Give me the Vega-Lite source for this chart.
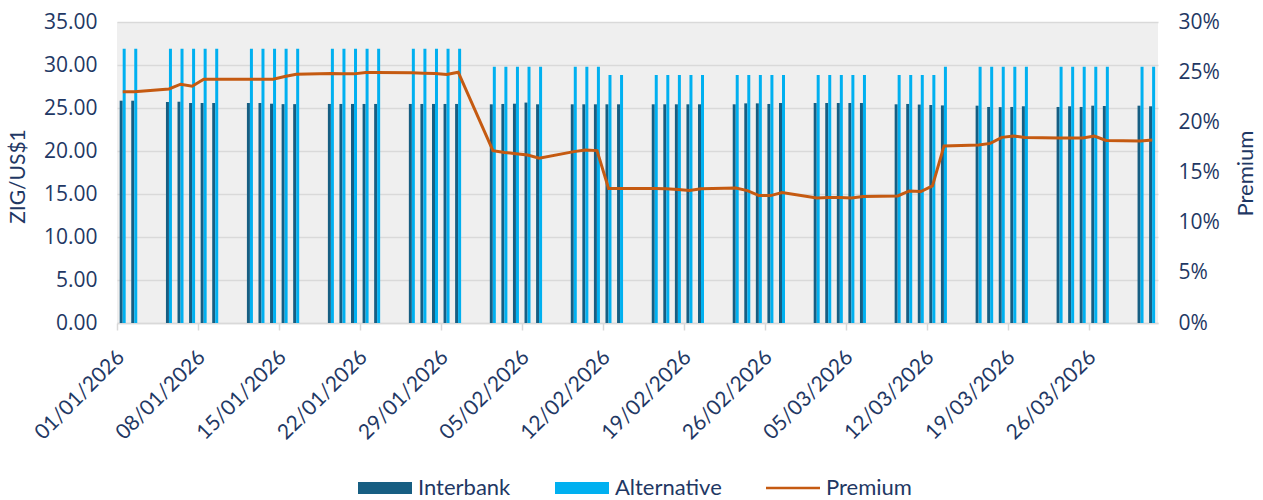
{
  "$schema": "https://vega.github.io/schema/vega-lite/v6.json",
  "width": 1041,
  "height": 301,
  "autosize": {"type": "none"},
  "padding": {"left": 117, "top": 22, "right": 105, "bottom": 177},
  "background": "white",
  "config": {
    "view": {"fill": "#efefef", "stroke": null},
    "font": "Lato"
  },
  "data": {
    "values": [
      {"date": "2026-01-01", "interbank": 25.85, "alternative": 31.9, "premium": 0.2306},
      {"date": "2026-01-02", "interbank": 25.85, "alternative": 31.9, "premium": 0.2306},
      {"date": "2026-01-05", "interbank": 25.7, "alternative": 31.9, "premium": 0.2333},
      {"date": "2026-01-06", "interbank": 25.73, "alternative": 31.9, "premium": 0.238},
      {"date": "2026-01-07", "interbank": 25.58, "alternative": 31.9, "premium": 0.236},
      {"date": "2026-01-08", "interbank": 25.58, "alternative": 31.9, "premium": 0.243},
      {"date": "2026-01-09", "interbank": 25.58, "alternative": 31.9, "premium": 0.243},
      {"date": "2026-01-12", "interbank": 25.58, "alternative": 31.9, "premium": 0.243},
      {"date": "2026-01-13", "interbank": 25.58, "alternative": 31.9, "premium": 0.243},
      {"date": "2026-01-14", "interbank": 25.5, "alternative": 31.9, "premium": 0.243},
      {"date": "2026-01-15", "interbank": 25.45, "alternative": 31.9, "premium": 0.2456},
      {"date": "2026-01-16", "interbank": 25.45, "alternative": 31.9, "premium": 0.248},
      {"date": "2026-01-19", "interbank": 25.47, "alternative": 31.9, "premium": 0.2486},
      {"date": "2026-01-20", "interbank": 25.47, "alternative": 31.9, "premium": 0.2485},
      {"date": "2026-01-21", "interbank": 25.47, "alternative": 31.9, "premium": 0.2483},
      {"date": "2026-01-22", "interbank": 25.47, "alternative": 31.9, "premium": 0.2496},
      {"date": "2026-01-23", "interbank": 25.47, "alternative": 31.9, "premium": 0.2496},
      {"date": "2026-01-26", "interbank": 25.47, "alternative": 31.9, "premium": 0.2493},
      {"date": "2026-01-27", "interbank": 25.47, "alternative": 31.9, "premium": 0.249},
      {"date": "2026-01-28", "interbank": 25.47, "alternative": 31.9, "premium": 0.2486},
      {"date": "2026-01-29", "interbank": 25.47, "alternative": 31.9, "premium": 0.2476},
      {"date": "2026-01-30", "interbank": 25.47, "alternative": 31.9, "premium": 0.25},
      {"date": "2026-02-02", "interbank": 25.43, "alternative": 29.8, "premium": 0.1718},
      {"date": "2026-02-03", "interbank": 25.47, "alternative": 29.8, "premium": 0.17},
      {"date": "2026-02-04", "interbank": 25.5, "alternative": 29.8, "premium": 0.1688},
      {"date": "2026-02-05", "interbank": 25.63, "alternative": 29.8, "premium": 0.1675},
      {"date": "2026-02-06", "interbank": 25.43, "alternative": 29.8, "premium": 0.1642},
      {"date": "2026-02-09", "interbank": 25.43, "alternative": 29.8, "premium": 0.1708},
      {"date": "2026-02-10", "interbank": 25.43, "alternative": 29.8, "premium": 0.1725},
      {"date": "2026-02-11", "interbank": 25.43, "alternative": 29.8, "premium": 0.1718},
      {"date": "2026-02-12", "interbank": 25.43, "alternative": 28.84, "premium": 0.134},
      {"date": "2026-02-13", "interbank": 25.43, "alternative": 28.84, "premium": 0.134},
      {"date": "2026-02-16", "interbank": 25.43, "alternative": 28.84, "premium": 0.134},
      {"date": "2026-02-17", "interbank": 25.43, "alternative": 28.84, "premium": 0.1337},
      {"date": "2026-02-18", "interbank": 25.43, "alternative": 28.84, "premium": 0.133},
      {"date": "2026-02-19", "interbank": 25.43, "alternative": 28.84, "premium": 0.132},
      {"date": "2026-02-20", "interbank": 25.43, "alternative": 28.84, "premium": 0.1337},
      {"date": "2026-02-23", "interbank": 25.43, "alternative": 28.84, "premium": 0.1346},
      {"date": "2026-02-24", "interbank": 25.54, "alternative": 28.84, "premium": 0.132},
      {"date": "2026-02-25", "interbank": 25.54, "alternative": 28.84, "premium": 0.127},
      {"date": "2026-02-26", "interbank": 25.47, "alternative": 28.84, "premium": 0.127},
      {"date": "2026-02-27", "interbank": 25.58, "alternative": 28.84, "premium": 0.13},
      {"date": "2026-03-02", "interbank": 25.58, "alternative": 28.84, "premium": 0.1246},
      {"date": "2026-03-03", "interbank": 25.58, "alternative": 28.84, "premium": 0.125},
      {"date": "2026-03-04", "interbank": 25.58, "alternative": 28.84, "premium": 0.125},
      {"date": "2026-03-05", "interbank": 25.58, "alternative": 28.84, "premium": 0.1246},
      {"date": "2026-03-06", "interbank": 25.58, "alternative": 28.84, "premium": 0.126},
      {"date": "2026-03-09", "interbank": 25.43, "alternative": 28.84, "premium": 0.1266},
      {"date": "2026-03-10", "interbank": 25.47, "alternative": 28.84, "premium": 0.1316},
      {"date": "2026-03-11", "interbank": 25.4, "alternative": 28.84, "premium": 0.131},
      {"date": "2026-03-12", "interbank": 25.35, "alternative": 28.84, "premium": 0.1366},
      {"date": "2026-03-13", "interbank": 25.3, "alternative": 29.8, "premium": 0.1765},
      {"date": "2026-03-16", "interbank": 25.27, "alternative": 29.8, "premium": 0.1775},
      {"date": "2026-03-17", "interbank": 25.12, "alternative": 29.8, "premium": 0.179},
      {"date": "2026-03-18", "interbank": 25.1, "alternative": 29.8, "premium": 0.185},
      {"date": "2026-03-19", "interbank": 25.12, "alternative": 29.8, "premium": 0.1864},
      {"date": "2026-03-20", "interbank": 25.2, "alternative": 29.8, "premium": 0.1848},
      {"date": "2026-03-23", "interbank": 25.12, "alternative": 29.8, "premium": 0.1845},
      {"date": "2026-03-24", "interbank": 25.2, "alternative": 29.8, "premium": 0.1845},
      {"date": "2026-03-25", "interbank": 25.12, "alternative": 29.8, "premium": 0.1845},
      {"date": "2026-03-26", "interbank": 25.27, "alternative": 29.8, "premium": 0.1864},
      {"date": "2026-03-27", "interbank": 25.23, "alternative": 29.8, "premium": 0.182},
      {"date": "2026-03-30", "interbank": 25.27, "alternative": 29.8, "premium": 0.1815},
      {"date": "2026-03-31", "interbank": 25.2, "alternative": 29.8, "premium": 0.1825}
    ]
  },
  "encoding": {
    "x": {
      "field": "date",
      "type": "temporal",
      "timeUnit": "utcyearmonthdate",
      "bandPosition": 0.5,
      "scale": {
        "type": "utc",
        "domain": [
          {"year": 2026, "month": 1, "date": 1, "utc": true},
          {"year": 2026, "month": 4, "date": 1, "utc": true}
        ]
      },
      "axis": {
        "values": [
          {"year": 2026, "month": 1, "date": 1, "utc": true},
          {"year": 2026, "month": 1, "date": 8, "utc": true},
          {"year": 2026, "month": 1, "date": 15, "utc": true},
          {"year": 2026, "month": 1, "date": 22, "utc": true},
          {"year": 2026, "month": 1, "date": 29, "utc": true},
          {"year": 2026, "month": 2, "date": 5, "utc": true},
          {"year": 2026, "month": 2, "date": 12, "utc": true},
          {"year": 2026, "month": 2, "date": 19, "utc": true},
          {"year": 2026, "month": 2, "date": 26, "utc": true},
          {"year": 2026, "month": 3, "date": 5, "utc": true},
          {"year": 2026, "month": 3, "date": 12, "utc": true},
          {"year": 2026, "month": 3, "date": 19, "utc": true},
          {"year": 2026, "month": 3, "date": 26, "utc": true}
        ],
        "format": "%d/%m/%Y",
        "labelAngle": -45,
        "labelFont": "Lato",
        "labelFontSize": 21,
        "labelColor": "#1f3864",
        "labelPadding": 16,
        "labelOffset": -4,
        "labelOverlap": false,
        "labelBound": false,
        "grid": false,
        "domainColor": "#d9d9d9",
        "domainWidth": 1.5,
        "tickColor": "#d9d9d9",
        "tickWidth": 1.5,
        "tickSize": 7,
        "title": null
      }
    }
  },
  "layer": [
    {
      "layer": [
        {
          "mark": {"type": "bar", "width": 3, "xOffset": -1.6},
          "encoding": {
            "y": {
              "field": "interbank",
              "type": "quantitative",
              "scale": {"domain": [0, 35]},
              "axis": {
                "title": "ZIG/US$1",
                "values": [0, 5, 10, 15, 20, 25, 30, 35],
                "format": ".2f",
                "labelFont": "Open Sans",
                "labelFontSize": 21,
                "labelColor": "#1f3864",
                "labelPadding": 20,
                "domain": false,
                "ticks": false,
                "gridColor": "#d9d9d9",
                "gridWidth": 1.5,
                "titleFont": "Lato",
                "titleFontSize": 21,
                "titleFontWeight": "normal",
                "titleColor": "#1f3864",
                "titleX": -99,
                "titleY": 154,
                "titleBaseline": "middle",
                "titleAlign": "center",
                "titleAngle": -90
              }
            },
            "color": {
              "datum": "Interbank",
              "scale": {
                "domain": ["Interbank", "Alternative", "Premium"],
                "range": ["#175e82", "#00b0f0", "#c55a11"]
              },
              "legend": {
                "orient": "none",
                "legendX": 241,
                "legendY": 439,
                "direction": "horizontal",
                "title": null,
                "symbolType": "M-1,-0.22H1V0.22H-1Z",
                "symbolSize": 2916,
                "symbolStrokeWidth": 0,
                "labelFont": "Lato",
                "labelFontSize": 22,
                "labelColor": "#1f3864",
                "labelOffset": 6,
                "columnPadding": 44,
                "labelLimit": 300,
                "encode": {
                  "symbols": {
                    "update": {
                      "shape": {"signal": "datum.value === 'Premium' ? 'M-1,-0.05H1V0.05H-1Z' : 'M-1,-0.22H1V0.22H-1Z'"},
                      "fill": {"scale": "color", "field": "value"},
                      "strokeWidth": {"value": 0}
                    }
                  }
                }
              }
            }
          }
        },
        {
          "mark": {"type": "bar", "width": 3, "xOffset": 1.4},
          "encoding": {
            "y": {
              "field": "alternative",
              "type": "quantitative",
              "scale": {"domain": [0, 35]}
            },
            "color": {"datum": "Alternative"}
          }
        }
      ]
    },
    {
      "mark": {"type": "line", "strokeWidth": 3},
      "encoding": {
        "y": {
          "field": "premium",
          "type": "quantitative",
          "scale": {"domain": [0, 0.3]},
          "axis": {
            "orient": "right",
            "title": "Premium",
            "values": [0, 0.05, 0.1, 0.15, 0.2, 0.25, 0.3],
            "format": ".0%",
            "labelFont": "Open Sans",
            "labelFontSize": 21,
            "labelColor": "#1f3864",
            "labelPadding": 20,
            "domain": false,
            "ticks": false,
            "grid": false,
            "titleFont": "Lato",
            "titleFontSize": 22,
            "titleFontWeight": "normal",
            "titleColor": "#1f3864",
            "titleX": 87,
            "titleY": 151,
            "titleBaseline": "middle",
            "titleAlign": "center",
            "titleAngle": -90
          }
        },
        "color": {"datum": "Premium"}
      }
    }
  ],
  "resolve": {"scale": {"y": "independent"}}
}
